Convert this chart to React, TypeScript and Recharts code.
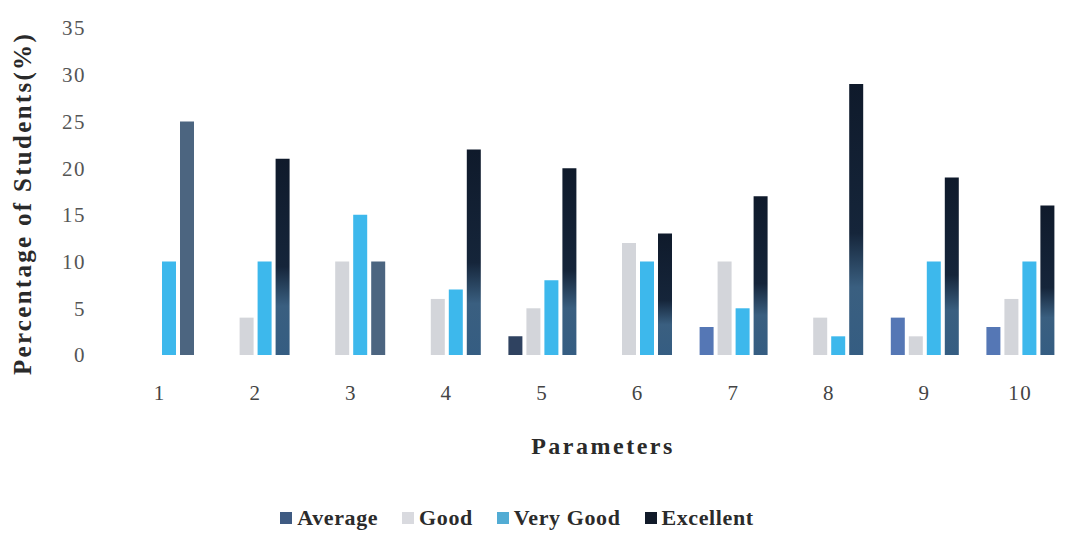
import { BarChart, Bar, XAxis, YAxis, Legend, Cell } from "recharts"

const parameters = ["1", "2", "3", "4", "5", "6", "7", "8", "9", "10"]
const average = [0, 0, 0, 0, 2, 0, 3, 0, 4, 3]
const good = [0, 4, 10, 6, 5, 12, 10, 4, 2, 6]
const veryGood = [10, 10, 15, 7, 8, 10, 5, 2, 10, 10]
const excellent = [25, 21, 10, 22, 20, 13, 17, 29, 19, 16]
const yTicks = [0, 5, 10, 15, 20, 25, 30, 35]

const data = parameters.map((name, i) => ({
  name,
  Average: average[i],
  Good: good[i],
  "Very Good": veryGood[i],
  Excellent: excellent[i],
}))

const font = "'Liberation Serif', 'Times New Roman', serif"

// groups 1 and 3 look flat grey-blue in the scan, the rest fade dark->blue
const excellentFill = (i: number) => (i === 0 || i === 2 ? "#4c6580" : "url(#excGrad)")
const averageFill = (i: number) => (i === 4 ? "#2f4260" : "#5577b5")

const legendItems = [
  { label: "Average", color: "#3f5b82" },
  { label: "Good", color: "#d9dadf" },
  { label: "Very Good", color: "#52acd4" },
  { label: "Excellent", color: "#111a29" },
]

function ChartLegend() {
  return (
    <div style={{ height: 24, display: "flex", justifyContent: "center", alignItems: "center", fontFamily: font, fontWeight: "bold", fontSize: 22, letterSpacing: 0.6, color: "#2b2b2b", marginLeft: -50 }}>
      {legendItems.map((it) => (
        <span key={it.label} style={{ display: "flex", alignItems: "center", marginRight: 24 }}>
          <span style={{ display: "inline-block", width: 12, height: 12, background: it.color, marginRight: 5 }} />
          {it.label}
        </span>
      ))}
    </div>
  )
}

function YLabel({ viewBox }: any) {
  const x = viewBox.x - 18
  const y = viewBox.y + viewBox.height / 2 + 12
  return (
    <text x={x} y={y} transform={`rotate(-90, ${x}, ${y})`} textAnchor="middle" dominantBaseline="central"
      fontFamily={font} fontWeight="bold" fontSize={25} letterSpacing={2.3} fill="#2a2a2a">
      Percentage of Students(%)
    </text>
  )
}

function XLabel({ viewBox }: any) {
  const x = viewBox.x + viewBox.width / 2 + 13
  return (
    <text x={x} y={viewBox.y + 91} textAnchor="middle" dominantBaseline="central"
      fontFamily={font} fontWeight="bold" fontSize={24} letterSpacing={2.5} fill="#2a2a2a">
      Parameters
    </text>
  )
}

export default function App() {
  return (
    <div style={{ position: "absolute", left: 0, top: 0, background: "#fff" }}>
      <BarChart width={1083} height={540} data={data} barSize={14} barGap={4}
        margin={{ top: 28, right: 15, left: 40, bottom: 10 }}>
        <defs>
          <linearGradient id="excGrad" x1="0" y1="0" x2="0" y2="1">
            <stop offset="0%" stopColor="#0f1a2b" />
            <stop offset="55%" stopColor="#15253a" />
            <stop offset="75%" stopColor="#3a5f80" />
            <stop offset="100%" stopColor="#355d82" />
          </linearGradient>
        </defs>
        <XAxis dataKey="name" axisLine={false} tickLine={false} height={151} tickMargin={24}
          tick={{ fontFamily: font, fontSize: 21, fill: "#444", letterSpacing: 1.5 }}
          label={<XLabel />} />
        <YAxis domain={[0, 35]} ticks={yTicks} axisLine={false} tickLine={false} width={72} tickSize={0} tickMargin={26}
          tick={{ fontFamily: font, fontSize: 21, fill: "#555", letterSpacing: 1.5 }}
          label={<YLabel />} />
        <Legend verticalAlign="bottom" content={<ChartLegend />} />
        <Bar dataKey="Average" isAnimationActive={false}>
          {average.map((_, i) => (
            <Cell key={i} fill={averageFill(i)} />
          ))}
        </Bar>
        <Bar dataKey="Good" fill="#d3d5da" isAnimationActive={false} />
        <Bar dataKey="Very Good" fill="#3db8ec" isAnimationActive={false} />
        <Bar dataKey="Excellent" isAnimationActive={false}>
          {excellent.map((_, i) => (
            <Cell key={i} fill={excellentFill(i)} />
          ))}
        </Bar>
      </BarChart>
    </div>
  )
}
